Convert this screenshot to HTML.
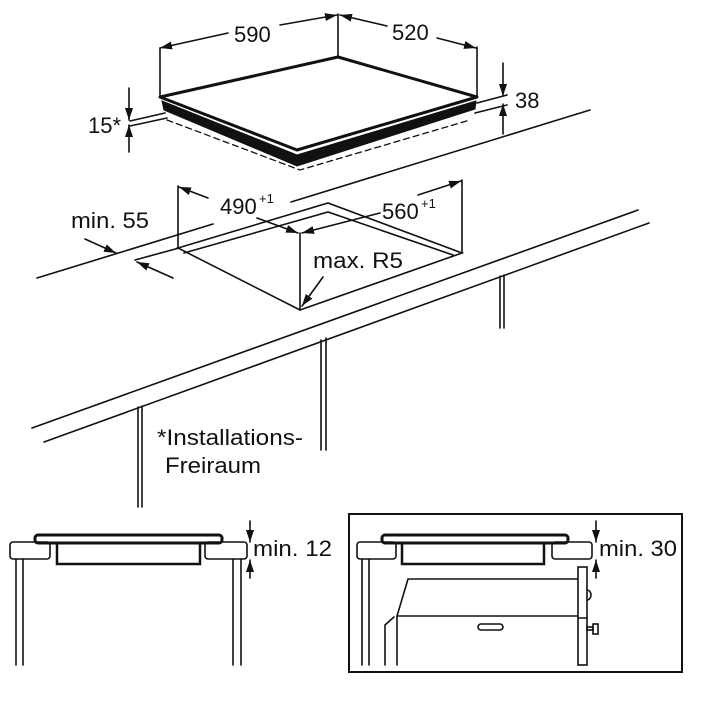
<!DOCTYPE html>
<html><head><meta charset="utf-8"><style>
html,body{margin:0;padding:0;background:#fff;}
svg{display:block;}
text{font-family:"Liberation Sans",Arial,sans-serif;fill:#111;}
</style></head><body>
<svg width="715" height="715" viewBox="0 0 715 715" xmlns="http://www.w3.org/2000/svg">
<defs>
<marker id="a" viewBox="0 0 12 8" refX="12" refY="4" markerWidth="12" markerHeight="8" markerUnits="userSpaceOnUse" orient="auto">
<path d="M0,0 L12,4 L0,8 Z" fill="#111"/></marker>
</defs>
<g stroke="#111" stroke-width="1.6" fill="none" stroke-linecap="round">
<!-- hob extension lines -->
<line x1="160" y1="48" x2="160" y2="97"/>
<line x1="338" y1="14" x2="338" y2="57"/>
<line x1="477" y1="47" x2="477" y2="97"/>
<!-- 590 -->
<line x1="228" y1="33" x2="160" y2="48" marker-end="url(#a)"/>
<line x1="280" y1="25" x2="337" y2="15" marker-end="url(#a)"/>
<!-- 520 -->
<line x1="387" y1="26" x2="340" y2="15" marker-end="url(#a)"/>
<line x1="437" y1="38" x2="476" y2="48" marker-end="url(#a)"/>
<!-- 38 -->
<line x1="503" y1="63" x2="503" y2="96" marker-end="url(#a)"/>
<line x1="503" y1="134" x2="503" y2="104" marker-end="url(#a)"/>
<line x1="477" y1="103" x2="507" y2="95"/>
<line x1="475" y1="113" x2="507" y2="105"/>
<!-- 15* -->
<line x1="129" y1="88" x2="129" y2="120" marker-end="url(#a)"/>
<line x1="129" y1="152" x2="129" y2="125" marker-end="url(#a)"/>
<line x1="130" y1="121" x2="165" y2="113"/>
<line x1="130" y1="126" x2="167" y2="118"/>
<!-- hob -->
<polygon points="160,97 338,57 477,97 297,150" stroke-width="3" stroke-linejoin="round"/>
<path d="M162,101 L297,155 L476,101 L475,109 L297,166 L164,110 Z" fill="#111" stroke-width="1"/>
<polyline points="167,120 300,170 470,120" stroke-dasharray="6,4" stroke-width="1.3"/>
<!-- counter -->
<line x1="37" y1="278" x2="213" y2="224"/>
<line x1="291" y1="202" x2="590" y2="110"/>
<line x1="32" y1="428" x2="638" y2="210"/>
<line x1="44" y1="442" x2="649" y2="223"/>
<line x1="135" y1="260" x2="179" y2="248"/>
<!-- legs -->
<line x1="138" y1="407" x2="138" y2="507"/><line x1="142" y1="406" x2="142" y2="507"/>
<line x1="321" y1="340" x2="321" y2="450"/><line x1="326" y1="338" x2="326" y2="450"/>
<line x1="500" y1="276" x2="500" y2="328"/><line x1="504" y1="275" x2="504" y2="328"/>
<!-- cutout -->
<polygon points="178,248 328,203 462,253 300,310"/>
<polyline points="184,253 328,212 453,255"/>
<line x1="300" y1="233" x2="300" y2="310"/>
<line x1="178" y1="186" x2="178" y2="248"/>
<line x1="462" y1="180" x2="462" y2="253"/>
<!-- 490 -->
<line x1="208" y1="198" x2="179" y2="187" marker-end="url(#a)"/>
<line x1="257" y1="218" x2="298" y2="233" marker-end="url(#a)"/>
<!-- 560 -->
<line x1="380" y1="213" x2="302" y2="233" marker-end="url(#a)"/>
<line x1="418" y1="195" x2="461" y2="181" marker-end="url(#a)"/>
<!-- min 55 -->
<line x1="85" y1="239" x2="116" y2="253" marker-end="url(#a)"/>
<line x1="173" y1="278" x2="137" y2="262" marker-end="url(#a)"/>
<!-- R5 -->
<line x1="323" y1="277" x2="302" y2="306" marker-end="url(#a)"/>

<!-- bottom left -->
<rect x="35" y="535" width="187" height="8" rx="3" stroke-width="3"/>
<rect x="10" y="542" width="40" height="17" rx="3"/>
<path d="M57,543 V564 H200 V543" stroke-width="2.5"/>
<rect x="205" y="542" width="42" height="17" rx="3"/>
<line x1="16" y1="559" x2="16" y2="665"/><line x1="23" y1="559" x2="23" y2="665"/>
<line x1="233" y1="559" x2="233" y2="665"/><line x1="241" y1="559" x2="241" y2="665"/>
<line x1="250" y1="521" x2="250" y2="542" marker-end="url(#a)"/>
<line x1="250" y1="578" x2="250" y2="560" marker-end="url(#a)"/>

<!-- bottom right -->
<rect x="349" y="514" width="333" height="158" stroke-width="2"/>
<rect x="382" y="535" width="186" height="8" rx="3" stroke-width="3"/>
<rect x="357" y="542" width="39" height="17" rx="3"/>
<path d="M402,543 V564 H544 V543" stroke-width="2.5"/>
<rect x="552" y="542" width="40" height="17" rx="3"/>
<line x1="362" y1="559" x2="362" y2="665"/><line x1="369" y1="559" x2="369" y2="665"/>
<polyline points="578,579 408,579 397,616 397,665"/>
<line x1="397" y1="616" x2="578" y2="616"/>
<polyline points="394,617 385,625 385,665"/>
<rect x="578" y="567" width="9" height="98"/>
<line x1="578" y1="618" x2="587" y2="618"/>
<path d="M587,590 A4,5 0 0 1 587,600"/>
<rect x="587" y="627" width="6" height="3"/>
<rect x="593" y="624" width="5" height="10"/>
<rect x="478" y="624" width="25" height="6" rx="3"/>
<line x1="596" y1="521" x2="596" y2="542" marker-end="url(#a)"/>
<line x1="596" y1="578" x2="596" y2="560" marker-end="url(#a)"/>
</g>
<g font-size="22">
<text x="234" y="42">590</text>
<text x="392" y="40">520</text>
<text x="515" y="108">38</text>
<text x="88" y="133">15*</text>
<text x="71" y="228" textLength="78" lengthAdjust="spacingAndGlyphs">min. 55</text>
<text x="220" y="214">490</text><text x="259" y="203" font-size="13">+1</text>
<text x="382" y="219">560</text><text x="421" y="208" font-size="13">+1</text>
<text x="313" y="268" textLength="90" lengthAdjust="spacingAndGlyphs">max. R5</text>
<text x="157" y="445" textLength="146" lengthAdjust="spacingAndGlyphs">*Installations-</text>
<text x="165" y="473" textLength="96" lengthAdjust="spacingAndGlyphs">Freiraum</text>
<text x="253" y="556" textLength="79" lengthAdjust="spacingAndGlyphs">min. 12</text>
<text x="599" y="556" textLength="78" lengthAdjust="spacingAndGlyphs">min. 30</text>
</g>
</svg>
</body></html>
